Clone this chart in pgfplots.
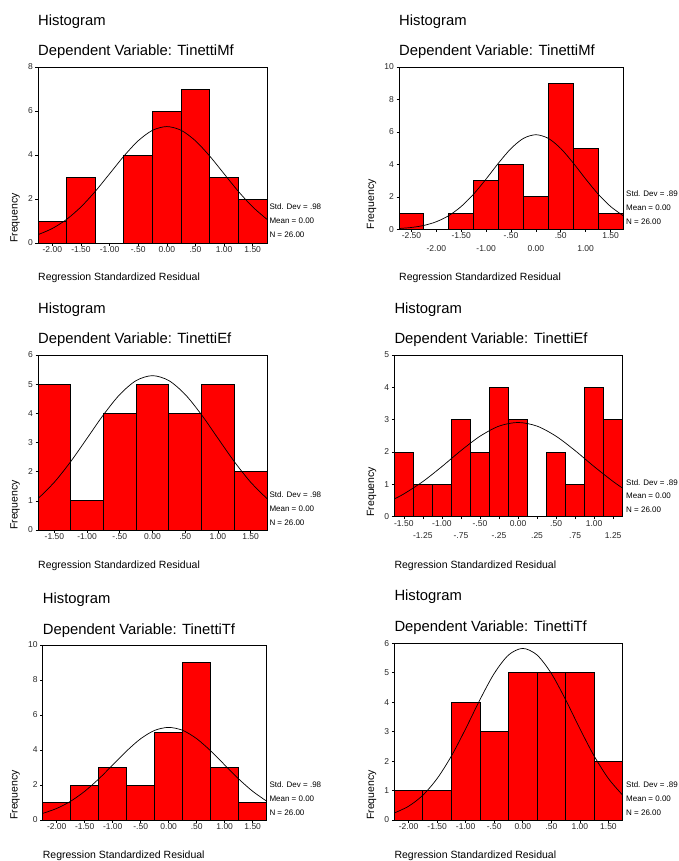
\documentclass[border=0pt]{standalone}
\usepackage{fontspec}
\setmainfont{Liberation Sans}
\usepackage{pgfplots}
\pgfplotsset{compat=1.18}
\pgfplotsset{hist/.style={scale only axis, axis on top, ymin=0, tick pos=left, tick align=outside,
  major tick length=2.5pt, axis line style={line width=0.9pt},
  every tick/.style={black, line width=0.6pt},
  tick label style={font=\fontsize{8.5}{10}\selectfont, text=black!85},
  xticklabel style={inner sep=0.8pt}, yticklabel style={inner sep=2.5pt},
  /pgf/number format/assume math mode=true, anchor=south west}}
\tikzset{bars/.style={ybar interval, fill=red, draw=black, line width=0.8pt},
  curve/.style={smooth, black, line width=0.7pt, no marks},
  ttl/.style={anchor=base west, inner sep=0pt, font=\fontsize{14.8}{17}\selectfont},
  xl/.style={anchor=base west, inner sep=0pt, font=\fontsize{10.5}{12}\selectfont},
  yl/.style={anchor=base west, inner sep=0pt, rotate=90, font=\fontsize{10.5}{12}\selectfont},
  st/.style={anchor=base west, inner sep=0pt, font=\fontsize{8}{9.6}\selectfont}}
\begin{document}
\begin{tikzpicture}
\useasboundingbox (0pt,0pt) rectangle (678pt,-861pt);
% ---------- Panel 1 ----------
\begin{axis}[hist, at={(38pt,-243pt)}, width=229pt, height=176pt,
  xmin=-2.25, xmax=1.75, ymax=8, ytick={0,2,4,6,8},
  xtick={-2,-1.5,-1,-0.5,0,0.5,1,1.5},
  xticklabels={-2.00,-1.50,-1.00,-.50,0.00,.50,1.00,1.50}]
\addplot[bars] coordinates {(-2.25,1) (-1.75,3) (-1.25,0) (-0.75,4) (-0.25,6) (0.25,7) (0.75,3) (1.25,2) (1.75,0)};
\addplot[curve] coordinates {(-2.25,0.379) (-2,0.660) (-1.75,1.075) (-1.5,1.640) (-1.25,2.346) (-1,3.145) (-0.75,3.949) (-0.5,4.646) (-0.25,5.123) (0,5.292) (0.25,5.123) (0.5,4.646) (0.75,3.949) (1,3.145) (1.25,2.346) (1.5,1.640) (1.75,1.075)};
\end{axis}
\node[ttl] at (38pt,-26pt) {Histogram};
\node[ttl] at (38pt,-55.5pt) {Dependent Variable: TinettiMf};
\node[xl] at (38pt,-280pt) {Regression Standardized Residual};
\node[yl] at (17.5pt,-243pt) {Frequency};
\node[st] at (269.3pt,-209.5pt) {Std. Dev = .98};
\node[st] at (269.3pt,-223.7pt) {Mean = 0.00};
\node[st] at (269.3pt,-237.7pt) {N = 26.00};
% ---------- Panel 2 ----------
\begin{axis}[hist, at={(399pt,-229.3pt)}, width=224pt, height=162.3pt,
  xmin=-2.75, xmax=1.75, ymax=10, ytick={0,2,4,6,8,10},
  xtick={-2.5,-1.5,-0.5,0.5,1.5},
  xticklabels={-2.50,-1.50,-.50,.50,1.50},
  extra x ticks={-2,-1,0,1}, extra x tick labels={-2.00,-1.00,0.00,1.00},
  extra x tick style={xticklabel style={yshift=-12.3pt}}]
\addplot[bars] coordinates {(-2.75,1) (-2.25,0) (-1.75,1) (-1.25,3) (-0.75,4) (-0.25,2) (0.25,9) (0.75,5) (1.25,1) (1.75,0)};
\addplot[curve] coordinates {(-2.75,0.049) (-2.5,0.113) (-2.25,0.239) (-2,0.467) (-1.75,0.843) (-1.5,1.408) (-1.25,2.173) (-1,3.100) (-0.75,4.086) (-0.5,4.977) (-0.25,5.602) (0,5.827) (0.25,5.602) (0.5,4.977) (0.75,4.086) (1,3.100) (1.25,2.173) (1.5,1.408) (1.75,0.843)};
\end{axis}
\node[ttl] at (399pt,-26pt) {Histogram};
\node[ttl] at (399pt,-55.7pt) {Dependent Variable: TinettiMf};
\node[xl] at (399pt,-280pt) {Regression Standardized Residual};
\node[yl] at (374pt,-229.3pt) {Frequency};
\node[st] at (626pt,-196.7pt) {Std. Dev = .89};
\node[st] at (626pt,-210pt) {Mean = 0.00};
\node[st] at (626pt,-224pt) {N = 26.00};
% ---------- Panel 3 ----------
\begin{axis}[hist, at={(38pt,-530pt)}, width=229pt, height=175pt,
  xmin=-1.75, xmax=1.75, ymax=6, ytick={0,1,2,3,4,5,6},
  xtick={-1.5,-1,-0.5,0,0.5,1,1.5},
  xticklabels={-1.50,-1.00,-.50,0.00,.50,1.00,1.50}]
\addplot[bars] coordinates {(-1.75,5) (-1.25,1) (-0.75,4) (-0.25,5) (0.25,4) (0.75,5) (1.25,2) (1.75,0)};
\addplot[curve] coordinates {(-1.75,1.075) (-1.5,1.640) (-1.25,2.346) (-1,3.145) (-0.75,3.949) (-0.5,4.646) (-0.25,5.123) (0,5.292) (0.25,5.123) (0.5,4.646) (0.75,3.949) (1,3.145) (1.25,2.346) (1.5,1.640) (1.75,1.075)};
\end{axis}
\node[ttl] at (38pt,-313.3pt) {Histogram};
\node[ttl] at (38pt,-343.3pt) {Dependent Variable: TinettiEf};
\node[xl] at (38pt,-568.3pt) {Regression Standardized Residual};
\node[yl] at (17.5pt,-530pt) {Frequency};
\node[st] at (269.3pt,-497.3pt) {Std. Dev = .98};
\node[st] at (269.3pt,-511.7pt) {Mean = 0.00};
\node[st] at (269.3pt,-525.7pt) {N = 26.00};
% ---------- Panel 4 ----------
\begin{axis}[hist, at={(394.3pt,-516.7pt)}, width=228.4pt, height=161.7pt,
  xmin=-1.625, xmax=1.375, ymax=5, ytick={0,1,2,3,4,5},
  xtick={-1.5,-1,-0.5,0,0.5,1},
  xticklabels={-1.50,-1.00,-.50,0.00,.50,1.00},
  extra x ticks={-1.25,-0.75,-0.25,0.25,0.75,1.25}, extra x tick labels={-1.25,-.75,-.25,.25,.75,1.25},
  extra x tick style={xticklabel style={yshift=-12.3pt}}]
\addplot[bars] coordinates {(-1.625,2) (-1.375,1) (-1.125,1) (-0.875,3) (-0.625,2) (-0.375,4) (-0.125,3) (0.125,0) (0.375,2) (0.625,1) (0.875,4) (1.125,3) (1.375,0)};
\addplot[curve] coordinates {(-1.625,0.550) (-1.5,0.704) (-1.25,1.087) (-1,1.550) (-0.75,2.043) (-0.5,2.488) (-0.25,2.801) (0,2.914) (0.25,2.801) (0.5,2.488) (0.75,2.043) (1,1.550) (1.25,1.087) (1.375,0.883)};
\end{axis}
\node[ttl] at (394.3pt,-313.3pt) {Histogram};
\node[ttl] at (394.3pt,-343.3pt) {Dependent Variable: TinettiEf};
\node[xl] at (394.3pt,-568.3pt) {Regression Standardized Residual};
\node[yl] at (374pt,-516.7pt) {Frequency};
\node[st] at (626pt,-485pt) {Std. Dev = .89};
\node[st] at (626pt,-498.3pt) {Mean = 0.00};
\node[st] at (626pt,-512.7pt) {N = 26.00};
% ---------- Panel 5 ----------
\begin{axis}[hist, at={(42.7pt,-820pt)}, width=224pt, height=175pt,
  xmin=-2.25, xmax=1.75, ymax=10, ytick={0,2,4,6,8,10},
  xtick={-2,-1.5,-1,-0.5,0,0.5,1,1.5},
  xticklabels={-2.00,-1.50,-1.00,-.50,0.00,.50,1.00,1.50}]
\addplot[bars] coordinates {(-2.25,1) (-1.75,2) (-1.25,3) (-0.75,2) (-0.25,5) (0.25,9) (0.75,3) (1.25,1) (1.75,0)};
\addplot[curve] coordinates {(-2.25,0.379) (-2,0.660) (-1.75,1.075) (-1.5,1.640) (-1.25,2.346) (-1,3.145) (-0.75,3.949) (-0.5,4.646) (-0.25,5.123) (0,5.292) (0.25,5.123) (0.5,4.646) (0.75,3.949) (1,3.145) (1.25,2.346) (1.5,1.640) (1.75,1.075)};
\end{axis}
\node[ttl] at (42.7pt,-603.3pt) {Histogram};
\node[ttl] at (42.7pt,-634pt) {Dependent Variable: TinettiTf};
\node[xl] at (42.7pt,-858.5pt) {Regression Standardized Residual};
\node[yl] at (17.5pt,-820pt) {Frequency};
\node[st] at (269.3pt,-787.3pt) {Std. Dev = .98};
\node[st] at (269.3pt,-801.7pt) {Mean = 0.00};
\node[st] at (269.3pt,-815.7pt) {N = 26.00};
% ---------- Panel 6 ----------
\begin{axis}[hist, at={(394.3pt,-820pt)}, width=228.4pt, height=176.7pt,
  xmin=-2.25, xmax=1.75, ymax=6, ytick={0,1,2,3,4,5,6},
  xtick={-2,-1.5,-1,-0.5,0,0.5,1,1.5},
  xticklabels={-2.00,-1.50,-1.00,-.50,0.00,.50,1.00,1.50}]
\addplot[bars] coordinates {(-2.25,1) (-1.75,1) (-1.25,4) (-0.75,3) (-0.25,5) (0.25,5) (0.75,5) (1.25,2) (1.75,0)};
\addplot[curve] coordinates {(-2.25,0.239) (-2,0.467) (-1.75,0.843) (-1.5,1.408) (-1.25,2.173) (-1,3.100) (-0.75,4.086) (-0.5,4.977) (-0.25,5.602) (0,5.827) (0.25,5.602) (0.5,4.977) (0.75,4.086) (1,3.100) (1.25,2.173) (1.5,1.408) (1.75,0.843)};
\end{axis}
\node[ttl] at (394.3pt,-600.7pt) {Histogram};
\node[ttl] at (394.3pt,-631.7pt) {Dependent Variable: TinettiTf};
\node[xl] at (394.3pt,-858.5pt) {Regression Standardized Residual};
\node[yl] at (374pt,-820pt) {Frequency};
\node[st] at (626pt,-787.3pt) {Std. Dev = .89};
\node[st] at (626pt,-801.7pt) {Mean = 0.00};
\node[st] at (626pt,-815pt) {N = 26.00};
\end{tikzpicture}
\end{document}
